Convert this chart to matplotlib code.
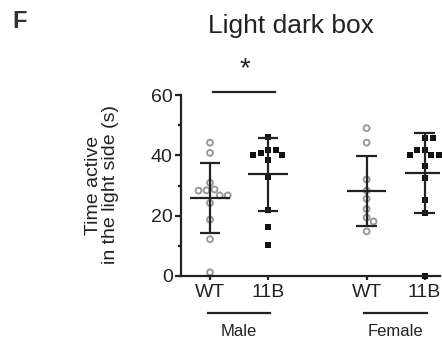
import matplotlib
matplotlib.use('Agg')
import matplotlib.pyplot as plt
import matplotlib.transforms as mtransforms
import numpy as np

plt.rcParams['font.family'] = ['Liberation Sans', 'DejaVu Sans']

# values (seconds)
male_wt = [44.2, 40.8, 30.9, 28.4, 28.7, 28.3, 26.7, 26.7, 24.2, 18.7, 12.2, 1.2]
male_11b = [46.0, 41.9, 41.9, 40.8, 40.2, 40.2, 38.6, 32.8, 21.8, 16.1, 10.3]
female_wt = [49.0, 44.2, 32.0, 28.3, 25.6, 22.2, 19.4, 18.1, 14.8]
female_11b = [45.8, 45.8, 41.9, 41.9, 40.2, 40.2, 40.2, 36.3, 32.5, 25.3, 20.8, 0.0]

tick_labels = ['WT', '11B', 'WT', '11B']
sex_labels = ['Male', 'Female']

# layout
xpos = [1.0, 2.0, 3.7, 4.7]
W, H = 442, 343
ink = '#222222'


def swarm(ax, x0, vals, d=8.0):
    # greedy beeswarm from the top down, worked out in pixels
    pts = ax.transData.transform([(x0, v) for v in vals])
    ypx = pts[:, 1]
    xpx0 = pts[0, 0]
    order = np.argsort(vals)[::-1]
    placed = []
    offs = np.zeros(len(vals))
    side = 1
    for i in order:
        y = ypx[i]
        cands = [0.0]
        for (px, py) in placed:
            dy = abs(py - y)
            if dy < d:
                dx = np.sqrt(d * d - dy * dy)
                cands += [px + dx, px - dx]
        cands = sorted(cands, key=lambda c: (round(abs(c), 2), -side * c))
        for c in cands:
            if all((c - px) ** 2 + (y - py) ** 2 >= d * d - 1e-6 for (px, py) in placed):
                offs[i] = c
                placed.append((c, y))
                if c != 0:
                    side = -side
                break
    back = ax.transData.inverted().transform([(xpx0 + o, 0) for o in offs])
    return back[:, 0]


fig = plt.figure(figsize=(W / 100, H / 100), dpi=100)
ax = fig.add_axes([181 / W, (H - 276) / H, (440 - 181) / W, 181 / H])
ax.set_ylim(0, 60)
ax.set_xlim(0.5, 0.5 + 259 / 58)

data = [male_wt, male_11b, female_wt, female_11b]
for k, vals in enumerate(data):
    xs = swarm(ax, xpos[k], vals)
    if k % 2 == 0:
        ax.scatter(xs, vals, s=18, facecolors='none', edgecolors='#9a9a9a',
                   linewidths=1.4, zorder=2, clip_on=False)
    else:
        ax.scatter(xs, vals, s=24, marker='s', color='#111111', linewidths=0,
                   zorder=2, clip_on=False)
    m = np.mean(vals)
    sd = np.std(vals, ddof=1)
    ax.hlines(m, xpos[k] - 0.34, xpos[k] + 0.34, color=ink, lw=1.6, zorder=3)
    ax.hlines([m - sd, m + sd], xpos[k] - 0.18, xpos[k] + 0.18, color=ink, lw=1.6, zorder=3)
    ax.vlines(xpos[k], m - sd, m + sd, color=ink, lw=1.6, zorder=3)

for s in ['top', 'right']:
    ax.spines[s].set_visible(False)
for s in ['left', 'bottom']:
    ax.spines[s].set_linewidth(1.6)
    ax.spines[s].set_color(ink)

ax.set_yticks([0, 20, 40, 60])
ax.set_yticks([10, 30, 50], minor=True)
ax.set_xticks(xpos)
ax.set_xticklabels(tick_labels)
ax.tick_params(axis='y', which='major', length=4, width=1.6, pad=2, labelsize=14, colors=ink)
ax.tick_params(axis='y', which='minor', length=2.5, width=1.6, colors=ink)
ax.tick_params(axis='x', length=3, width=1.6, pad=2.5, labelsize=14, colors=ink)

# significance bar between male groups
ax.plot([1.05, 2.12], [61.1, 61.1], color=ink, lw=1.6, clip_on=False)
ax.text(1.6, 68.5, '*', fontsize=20, ha='center', va='center', color=ink)

# sex group underlines and labels
trans = mtransforms.blended_transform_factory(ax.transData, ax.transAxes)
for j, lab in enumerate(sex_labels):
    a, b = xpos[2 * j], xpos[2 * j + 1]
    ax.plot([a - 0.04, b + 0.04], [-0.203, -0.203], transform=trans, color=ink,
            lw=1.6, clip_on=False)
    ax.text((a + b) / 2, -0.308, lab, transform=trans, ha='center', va='center',
            fontsize=12, color=ink)

fig.text(291 / W, 1 - 33 / H, 'Light dark box', fontsize=19, ha='center',
         va='baseline', color=ink)
fig.text(12.7 / W, 1 - 28.3 / H, 'F', fontsize=17, fontweight='bold',
         va='baseline', color='#333333')
fig.text(102 / W, 1 - 185 / H, 'Time active\nin the light side (s)', rotation=90,
         ha='center', va='center', fontsize=14, linespacing=0.95, color=ink)

fig.savefig('out.png', dpi=100)
